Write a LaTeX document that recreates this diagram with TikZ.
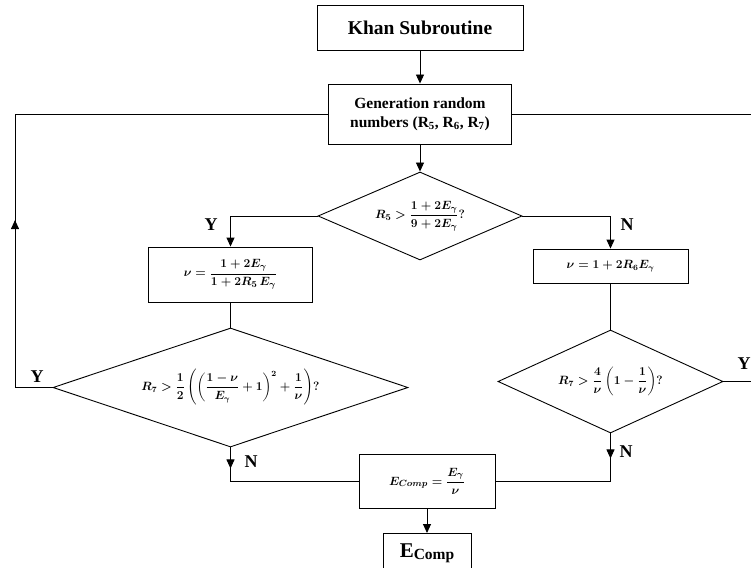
\documentclass[tikz,border=0pt]{standalone}
\usepackage{amsmath}
\usepackage{fontspec}
\setmainfont{Liberation Serif}
\usetikzlibrary{positioning, shapes.geometric, arrows.meta, decorations.markings}
\tikzset{
  flowarrow/.style={-{Triangle[width=8pt,length=9pt]}},
  % arrow head part way along a path
  midtip/.style={decoration={markings,
      mark=at position #1 with {\arrow{Triangle[width=8pt,length=9pt]}}},
    postaction={decorate}},
}

\begin{document}
\begin{tikzpicture}[x=1pt, y=-1pt, line width=0.9pt,
    block/.style = {rectangle, draw, line width=0.9pt, inner sep=2pt, align=center, font=\bfseries\fontsize{15.5}{19}\selectfont},
    decision/.style = {diamond, draw, line width=0.9pt, inner sep=0pt, align=center, font=\fontsize{13}{15}\selectfont\boldmath},
    mathbox/.style = {block, font=\fontsize{13}{15}\selectfont\boldmath},
    answer/.style = {inner sep=0pt, font=\bfseries\fontsize{18}{18}\selectfont},
  ]
  \useasboundingbox (0,0) rectangle (751,567);
  \clip (0,0) rectangle (751,567);

  \node[block, minimum width=206pt, minimum height=45pt, font=\bfseries\fontsize{19.5}{22}\selectfont] (khan) at (420,28) {Khan Subroutine};
  \node[block, minimum width=183pt, minimum height=60pt] (gen) at (420,114) {Generation random\\numbers (R\textsubscript{5}, R\textsubscript{6}, R\textsubscript{7})};
  \node[decision, minimum width=204pt, minimum height=88pt, aspect=2.3] (checkA) at (420,216) {$R_5 > \dfrac{1+2E_\gamma}{9+2E_\gamma}?$};
  \node[mathbox, minimum width=164pt, minimum height=55pt] (nuL) at (230.5,274.5) {$\nu = \dfrac{1+2E_\gamma}{1+2R_5\,E_\gamma}$};
  \node[mathbox, minimum width=155pt, minimum height=34pt, font=\fontsize{12}{14}\selectfont\boldmath] (nuR) at (610.5,266) {$\nu = 1+2R_6E_\gamma$};
  \node[decision, minimum width=355pt, minimum height=119pt, aspect=3, font=\fontsize{12}{14}\selectfont\boldmath] (checkB) at (230.5,387.5) {$R_7 > \dfrac{1}{2}\left(\left(\dfrac{1-\nu}{E_\gamma}+1\right)^{2}+\dfrac{1}{\nu}\right)?$};
  \node[decision, minimum width=225pt, minimum height=103pt, aspect=2.2, font=\fontsize{12}{14}\selectfont\boldmath] (checkC) at (610.5,381.5) {$R_7 > \dfrac{4}{\nu}\left(1-\dfrac{1}{\nu}\right)?$};
  \node[mathbox, minimum width=136pt, minimum height=54pt, font=\fontsize{12.5}{15}\selectfont\boldmath] (ecomp) at (427,481) {$E_{Comp} = \dfrac{E_\gamma}{\nu}$};
  \node[block, minimum width=88pt, minimum height=40pt, anchor=north] (final) at (427,533) {{\fontsize{21}{21}\selectfont E}\raisebox{-2pt}{Comp}};

  \coordinate (loopL) at (15,387.5);
  \coordinate (loopR) at (765,381.5);

  \draw[flowarrow] (khan) -- (gen);
  \draw[flowarrow] (gen) -- (checkA);
  \draw[flowarrow] (checkA.west) -| (nuL.north);
  \draw[flowarrow] (checkA.east) -| (nuR.north);
  \draw (nuL) -- (checkB);
  \draw (nuR) -- (checkC);
  \draw[midtip=205pt] (checkB.west) -- (loopL) |- (gen.west);
  \draw (checkC.east) -- (loopR) |- (gen.east);
  \draw[midtip=21pt] (checkB.south) |- (ecomp.west);
  \draw[midtip=25pt] (checkC.south) |- (ecomp.east);
  \draw[flowarrow] (ecomp) -- (final);

  \node[answer] (yesA) at (211,225) {Y};
  \node[answer] (noA) at (627,225) {N};
  \node[answer] (yesB) at (37,377) {Y};
  \node[answer] (yesC) at (744,364) {Y};
  \node[answer] (noB) at (251,462) {N};
  \node[answer] (noC) at (626,452) {N};
\end{tikzpicture}
\end{document}
